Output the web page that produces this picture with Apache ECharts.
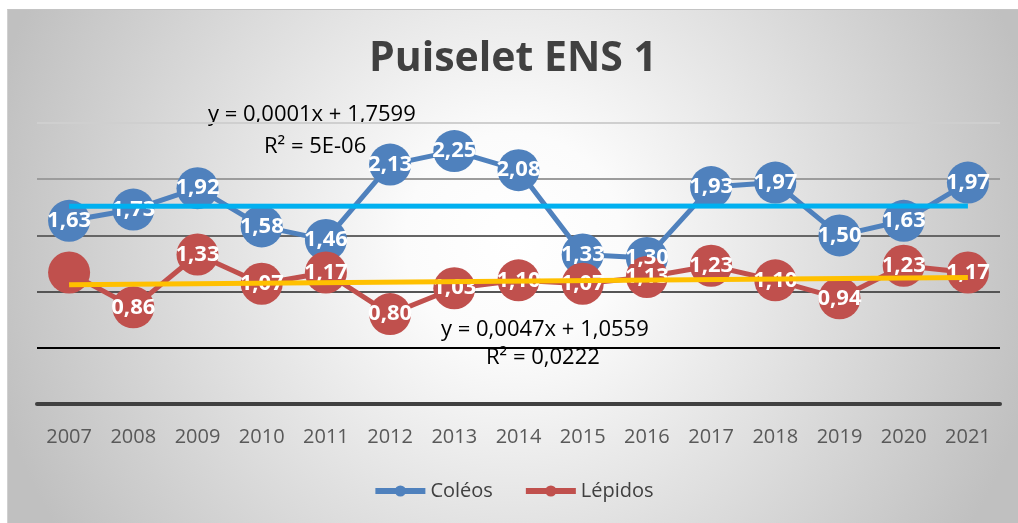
<!DOCTYPE html>
<html>
<head>
<meta charset="utf-8">
<script src="https://cdn.jsdelivr.net/npm/echarts@6/dist/echarts.min.js"></script>
<style>
  html, body { margin: 0; padding: 0; background: #fff; }
  #main { position: absolute; left: 7px; top: 9px; width: 1011px; height: 514px; border-top: 1px solid #c4c4c4; border-left: 1px solid #d0d0d0; box-sizing: border-box; }
</style>
</head>
<body>
<div id="main"></div>
<script>
// categories and values
var years = ['2007','2008','2009','2010','2011','2012','2013','2014','2015','2016','2017','2018','2019','2020','2021'];
var coleos = [1.63, 1.73, 1.92, 1.58, 1.46, 2.13, 2.25, 2.08, 1.33, 1.30, 1.93, 1.97, 1.50, 1.63, 1.97];
var lepidos = [1.17, 0.86, 1.33, 1.07, 1.17, 0.80, 1.03, 1.10, 1.07, 1.13, 1.23, 1.10, 0.94, 1.23, 1.17];
// linear trendlines as printed on the chart: [slope, intercept]
var coleosTrend = [0.0001, 1.7599];
var lepidosTrend = [0.0047, 1.0559];
var yTicks = [0, 0.5, 1, 1.5, 2, 2.5];

function trendData(coef) {
    // only the two end points of the straight line
    var out = [];
    for (var i = 0; i < years.length; i++) {
        if (i === 0 || i === years.length - 1) {
            out.push([years[i], coef[0] * (i + 1) + coef[1]]);
        }
    }
    return out;
}

function withLabels(arr, hidden) {
    return arr.map(function (v, i) {
        if (hidden.indexOf(i) >= 0) {
            return { value: v, label: { show: false } };
        }
        return v;
    });
}

var myChart = echarts.init(document.getElementById('main'));

var labelStyle = {
    show: true,
    position: 'inside',
    color: '#fff',
    fontFamily: 'Open Sans',
    fontWeight: 'bold',
    fontSize: 22,
    formatter: function (p) { return p.value.toFixed(2).replace('.', ','); }
};

var eqStyle = { fontFamily: 'Open Sans', fontSize: 22, fill: '#000' };

var option = {
    animation: false,
    backgroundColor: {
        type: 'radial', x: 0.5, y: 0.45, r: 1.05,
        colorStops: [
            { offset: 0, color: '#ffffff' },
            { offset: 0.2, color: '#fbfbfb' },
            { offset: 1, color: '#c0c0c0' }
        ]
    },
    title: {
        text: 'Puiselet ENS 1',
        left: 'center',
        top: 24,
        textStyle: { fontFamily: 'Open Sans', fontWeight: 'bold', fontSize: 41, color: '#404040' }
    },
    legend: {
        bottom: 17,
        left: 'center',
        itemWidth: 50,
        itemHeight: 14,
        itemGap: 30,
        lineStyle: { width: 6 },
        textStyle: { fontFamily: 'Open Sans', fontSize: 20, color: '#404040' },
        data: ['Coléos', 'Lépidos']
    },
    grid: { left: 29, right: 18, top: 113, bottom: 119, containLabel: false },
    xAxis: {
        type: 'category',
        data: years,
        boundaryGap: true,
        axisLine: { show: true, lineStyle: { color: '#404040', width: 4 } },
        axisTick: { show: false },
        axisLabel: { fontFamily: 'Open Sans', fontSize: 20, color: '#595959', margin: 23 }
    },
    yAxis: {
        type: 'value',
        min: yTicks[0],
        max: yTicks[yTicks.length - 1],
        interval: 0.5,
        axisLabel: { show: false },
        axisLine: { show: false },
        axisTick: { show: false },
        splitLine: {
            lineStyle: {
                color: ['#404040', '#000000', '#555555', '#666666', '#9c9c9c', '#cfcfcf'],
                width: 2
            }
        }
    },
    graphic: [
        { type: 'text', left: 200, top: 94, style: Object.assign({ text: 'y = 0,0001x + 1,7599' }, eqStyle) },
        { type: 'text', left: 256, top: 126, style: Object.assign({ text: 'R² = 5E-06' }, eqStyle) },
        { type: 'text', left: 433, top: 309, style: Object.assign({ text: 'y = 0,0047x + 1,0559' }, eqStyle) },
        { type: 'text', left: 478, top: 337, style: Object.assign({ text: 'R² = 0,0222' }, eqStyle) }
    ],
    series: [{
        name: 'Coléos',
        type: 'line',
        data: withLabels(coleos, []),
        symbol: 'circle',
        symbolSize: 42,
        lineStyle: { color: '#4F81BD', width: 5 },
        itemStyle: { color: '#4F81BD' },
        label: labelStyle,
        z: 2
    }, {
        name: 'Lépidos',
        type: 'line',
        data: withLabels(lepidos, [0]),
        symbol: 'circle',
        symbolSize: 42,
        lineStyle: { color: '#C0504D', width: 5 },
        itemStyle: { color: '#C0504D' },
        label: labelStyle,
        z: 2
    }, {
        name: 'trend Coléos',
        type: 'line',
        data: trendData(coleosTrend),
        symbol: 'none',
        lineStyle: { color: '#00B0F0', width: 5 },
        silent: true,
        z: 10
    }, {
        name: 'trend Lépidos',
        type: 'line',
        data: trendData(lepidosTrend),
        symbol: 'none',
        lineStyle: { color: '#FFC000', width: 5 },
        silent: true,
        z: 10
    }]
};
myChart.setOption(option);
</script>
</body>
</html>
